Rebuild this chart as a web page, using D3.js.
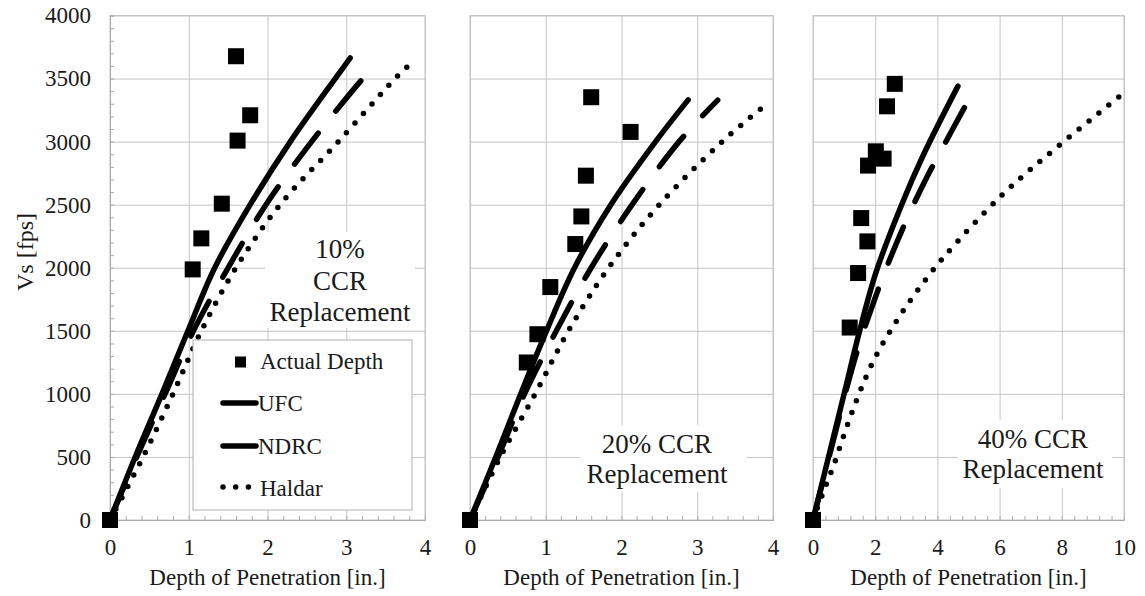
<!DOCTYPE html>
<html>
<head>
<meta charset="utf-8">
<script src="https://cdn.jsdelivr.net/npm/d3@7"></script>
<style>
  body { margin: 0; background: #fff; }
  svg { display: block; }
  text { font-family: "Liberation Serif", "Times New Roman", serif; fill: #1a1a1a; }
</style>
</head>
<body>
<svg id="chart" width="1145" height="596" font-family="Liberation Serif, Times New Roman, serif"></svg>
<script>
// Shear-wave velocity Vs [fps] against depth of penetration [in.]
// for three CCR replacement levels, with three prediction models.

const vsTicks = [0, 500, 1000, 1500, 2000, 2500, 3000, 3500, 4000];
const depthTicks10 = [0, 1, 2, 3, 4];
const depthTicks20 = [0, 1, 2, 3, 4];
const depthTicks40 = [0, 2, 4, 6, 8, 10];

const seriesNames = ["Actual Depth", "UFC", "NDRC", "Haldar"];
const panelLabels10 = ["10%", "CCR", "Replacement"];
const panelLabels20 = ["20% CCR", "Replacement"];
const panelLabels40 = ["40% CCR", "Replacement"];

// 10% CCR replacement
const actual10Depth = [0, 1.05, 1.16, 1.42, 1.62, 1.78, 1.60];
const actual10Vs    = [0, 1987, 2233, 2508, 3008, 3209, 3677];
const ufc10Depth    = [0, 0.32, 0.66, 0.99, 1.33, 1.78, 2.29, 2.86, 3.05];
const ufc10Vs       = [0, 500, 1000, 1500, 2000, 2500, 3000, 3500, 3663];
const ndrc10Depth   = [0, 0.34, 0.70, 1.06, 1.50, 1.98, 2.56, 3.21, 3.27];
const ndrc10Vs      = [0, 500, 1000, 1500, 2000, 2500, 3000, 3500, 3540];
const haldar10Depth = [0, 0.42, 0.80, 1.16, 1.60, 2.16, 2.90, 3.62, 3.86];
const haldar10Vs    = [0, 500, 1000, 1500, 2000, 2500, 3000, 3500, 3643];

// 20% CCR replacement
const actual20Depth = [0, 0.75, 0.89, 1.06, 1.39, 1.47, 1.53, 2.12, 1.60];
const actual20Vs    = [0, 1249, 1473, 1847, 2188, 2407, 2730, 3077, 3352];
const ufc20Depth    = [0, 0.34, 0.67, 1.01, 1.38, 1.86, 2.45, 2.88];
const ufc20Vs       = [0, 500, 1000, 1500, 2000, 2500, 3000, 3331];
const ndrc20Depth   = [0, 0.37, 0.72, 1.14, 1.60, 2.14, 2.76, 3.27];
const ndrc20Vs      = [0, 500, 1000, 1500, 2000, 2500, 3000, 3329];
const haldar20Depth = [0, 0.40, 0.86, 1.30, 1.83, 2.50, 3.33, 3.92];
const haldar20Vs    = [0, 500, 1000, 1500, 2000, 2500, 3000, 3300];

// 40% CCR replacement
const actual40Depth = [0, 1.18, 1.45, 1.75, 1.55, 1.77, 2.27, 2.02, 2.38, 2.63];
const actual40Vs    = [0, 1526, 1958, 2209, 2394, 2810, 2865, 2923, 3280, 3458];
const ufc40Depth    = [0, 0.50, 1.00, 1.50, 2.02, 2.85, 3.54, 4.66];
const ufc40Vs       = [0, 500, 1000, 1500, 1960, 2500, 2890, 3440];
const ndrc40Depth   = [0, 0.55, 1.07, 1.45, 1.93, 2.41, 3.00, 3.62, 4.32, 4.98];
const ndrc40Vs      = [0, 530, 1032, 1363, 1714, 2030, 2375, 2698, 3021, 3320];
const haldar40Depth = [0, 0.32, 0.68, 1.07, 1.48, 1.96, 2.54, 3.22, 4.18, 6.09, 7.88, 10.0];
const haldar40Vs    = [0, 215, 444, 728, 1000, 1270, 1521, 1772, 2077, 2579, 2963, 3386];

// Layout of the three panels
const plotTop = 15.5, plotBottom = 520;
const panels = [
  { left: 110, right: 425, xMax: 4, ticks: depthTicks10, minor: 0.2, yLabels: true,
    actual: [actual10Depth, actual10Vs], ufc: [ufc10Depth, ufc10Vs],
    ndrc: [ndrc10Depth, ndrc10Vs], haldar: [haldar10Depth, haldar10Vs],
    labels: panelLabels10, labelX: 340, labelY: [258, 290, 321],
    labelBox: [265, 232, 150, 96], legend: true },
  { left: 470, right: 773, xMax: 4, ticks: depthTicks20, minor: 0.2, yLabels: false,
    actual: [actual20Depth, actual20Vs], ufc: [ufc20Depth, ufc20Vs],
    ndrc: [ndrc20Depth, ndrc20Vs], haldar: [haldar20Depth, haldar20Vs],
    labels: panelLabels20, labelX: 657, labelY: [453, 483],
    labelBox: [580, 425, 167, 67], legend: false },
  { left: 813, right: 1124, xMax: 10, ticks: depthTicks40, minor: 0.4, yLabels: false,
    actual: [actual40Depth, actual40Vs], ufc: [ufc40Depth, ufc40Vs],
    ndrc: [ndrc40Depth, ndrc40Vs], haldar: [haldar40Depth, haldar40Vs],
    labels: panelLabels40, labelX: 1033, labelY: [448, 478],
    labelBox: [958, 420, 154, 68], legend: false }
];

const gridColor = "#c4c4c4";
const lineWidth = 5.5;
const ndrcDash = "39,28";
const haldarDash = "0,12.7";
const markSize = 16;
const serif = "Liberation Serif, Times New Roman, serif";

const svg = d3.select("#chart");
svg.append("rect").attr("width", 1145).attr("height", 596).attr("fill", "#fff");

const y = d3.scaleLinear().domain([0, 4000]).range([plotBottom, plotTop]);

panels.forEach(p => {
  const x = d3.scaleLinear().domain([0, p.xMax]).range([p.left, p.right]);
  const g = svg.append("g");
  const w = p.right - p.left;

  // grid lines
  g.append("g").attr("transform", `translate(0,${plotBottom})`)
    .call(d3.axisBottom(x).tickValues(p.ticks).tickSize(-(plotBottom - plotTop)).tickFormat(""))
    .call(a => a.selectAll("line").attr("stroke", gridColor))
    .call(a => a.select(".domain").remove());
  g.append("g").attr("transform", `translate(${p.left},0)`)
    .call(d3.axisLeft(y).tickValues(vsTicks).tickSize(-w).tickFormat(""))
    .call(a => a.selectAll("line").attr("stroke", gridColor))
    .call(a => a.select(".domain").remove());

  // plot frame
  g.append("rect").attr("x", p.left).attr("y", plotTop)
    .attr("width", w).attr("height", plotBottom - plotTop)
    .attr("fill", "none").attr("stroke", gridColor);

  // minor ticks along the depth axis
  const minorX = d3.range(0, p.xMax + 1e-9, p.minor);
  g.append("g").attr("transform", `translate(0,${plotBottom})`)
    .call(d3.axisBottom(x).tickValues(minorX).tickSize(-4).tickFormat(""))
    .call(a => a.selectAll("line").attr("stroke", "#aaa"))
    .call(a => a.select(".domain").attr("stroke", "#aaa"));

  // depth tick labels
  g.append("g").attr("transform", `translate(0,${plotBottom})`)
    .call(d3.axisBottom(x).tickValues(p.ticks).tickSize(0).tickPadding(19).tickFormat(d3.format("d")))
    .attr("font-family", serif)
    .call(a => a.select(".domain").remove())
    .call(a => a.selectAll("text").attr("font-size", 23).style("fill", "#1a1a1a"));

  if (p.yLabels) {
    g.append("g").attr("transform", `translate(${p.left},0)`)
      .call(d3.axisLeft(y).tickValues(d3.range(0, 4001, 100)).tickSize(-4).tickFormat(""))
      .call(a => a.selectAll("line").attr("stroke", "#aaa"))
      .call(a => a.select(".domain").attr("stroke", "#aaa"));
    g.append("g").attr("transform", `translate(${p.left},0)`)
      .call(d3.axisLeft(y).tickValues(vsTicks).tickSize(0).tickPadding(19).tickFormat(d3.format("d")))
      .attr("font-family", serif)
      .call(a => a.select(".domain").remove())
      .call(a => a.selectAll("text").attr("font-size", 23).style("fill", "#1a1a1a"));
    svg.append("text").attr("transform", "translate(33,252) rotate(-90)")
      .attr("text-anchor", "middle").attr("font-size", 24).text("Vs [fps]");
  }

  // depth axis title
  g.append("text").attr("x", (p.left + p.right) / 2).attr("y", 585)
    .attr("text-anchor", "middle").attr("font-size", 23).text("Depth of Penetration [in.]");

  // replacement label on a white box
  g.append("rect").attr("x", p.labelBox[0]).attr("y", p.labelBox[1])
    .attr("width", p.labelBox[2]).attr("height", p.labelBox[3]).attr("fill", "#fff");
  p.labels.forEach((t, i) => {
    g.append("text").attr("x", p.labelX).attr("y", p.labelY[i])
      .attr("text-anchor", "middle").attr("font-size", 27).text(t);
  });

  // model curves
  const line = d3.line().x(d => x(d[0])).y(d => y(d[1])).curve(d3.curveCatmullRom.alpha(0.5));
  const curve = (pair, dash) => g.append("path")
    .attr("d", line(d3.zip(pair[0], pair[1])))
    .attr("fill", "none").attr("stroke", "#000").attr("stroke-width", lineWidth)
    .attr("stroke-linecap", "round").attr("stroke-linejoin", "round")
    .attr("stroke-dasharray", dash);
  curve(p.haldar, haldarDash);
  curve(p.ndrc, ndrcDash);
  curve(p.ufc, null);

  // measured penetration depths
  g.selectAll("rect.mark").data(d3.zip(p.actual[0], p.actual[1])).join("rect")
    .attr("class", "mark")
    .attr("x", d => x(d[0]) - markSize / 2).attr("y", d => y(d[1]) - markSize / 2)
    .attr("width", markSize).attr("height", markSize).attr("fill", "#000");

  if (p.legend) {
    const lg = svg.append("g");
    lg.append("rect").attr("x", 193).attr("y", 340).attr("width", 219).attr("height", 170)
      .attr("fill", "#fff").attr("stroke", "#b0b0b0");
    const rowY = [362, 403, 446, 487];
    const textY = [368.5, 411, 454, 496];
    lg.append("rect").attr("x", 235).attr("y", rowY[0] - 5.5).attr("width", 11).attr("height", 11).attr("fill", "#000");
    [[1, null], [2, null], [3, haldarDash]].forEach(([i, dash]) => {
      lg.append("line").attr("x1", 223).attr("x2", dash ? 248.5 : 256).attr("y1", rowY[i]).attr("y2", rowY[i])
        .attr("stroke", "#000").attr("stroke-width", lineWidth).attr("stroke-linecap", "round")
        .attr("stroke-dasharray", dash);
    });
    seriesNames.forEach((s, i) => {
      lg.append("text").attr("x", i === 1 || i === 2 ? 258 : 260).attr("y", textY[i])
        .attr("font-size", 23).text(s);
    });
  }
});
</script>
</body>
</html>
